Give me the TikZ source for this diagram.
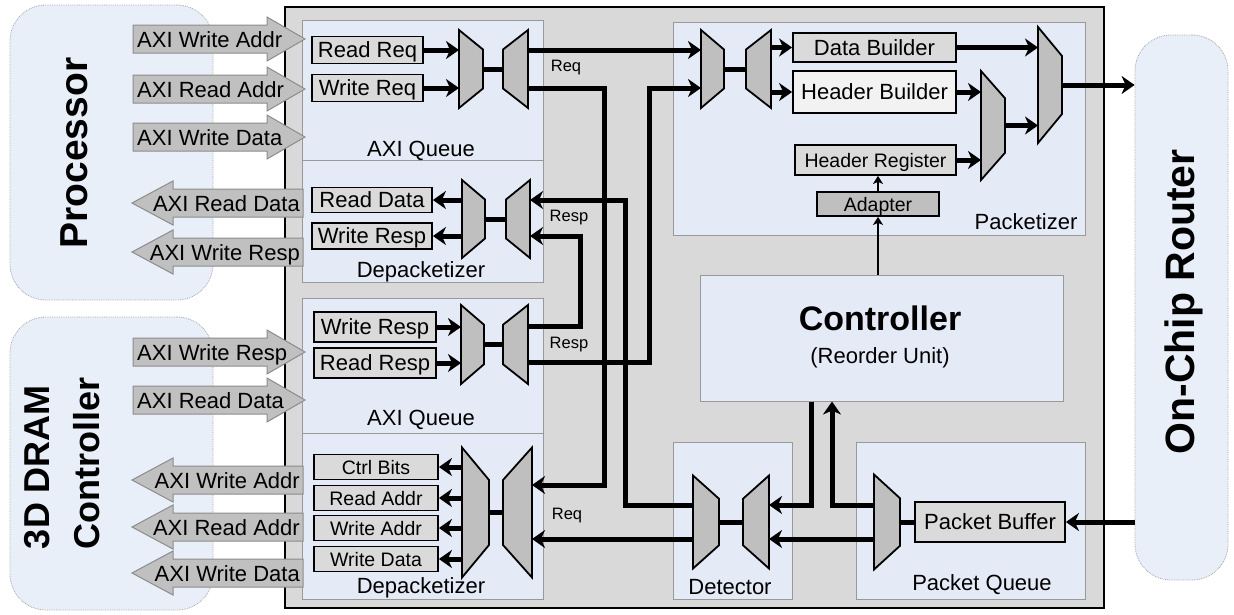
\documentclass[tikz,border=0pt]{standalone}
\usepackage{fontspec}
\setmainfont{Liberation Sans}
\usepackage{tikz}
\usepackage{xcolor}
\usetikzlibrary{calc,arrows.meta}

\definecolor{chipgray}{RGB}{217,217,217}
\definecolor{blockblue}{RGB}{229,235,246}
\definecolor{hostblue}{RGB}{233,239,249}
\definecolor{unitgray}{RGB}{218,218,218}
\definecolor{unitlight}{RGB}{242,242,242}
\definecolor{muxgray}{RGB}{191,191,191}
\definecolor{sigfill}{RGB}{192,192,192}
\definecolor{sigline}{RGB}{140,140,140}

\tikzset{
  chip/.style={fill=chipgray, draw=black, line width=1.5pt},
  block/.style={fill=blockblue, draw=gray!80, line width=1pt},
  host/.style={fill=hostblue, draw=gray!70, line width=0.8pt, densely dotted, rounded corners=36pt},
  unit/.style={draw=black, fill=unitgray, line width=1.8pt, inner sep=0pt,
    font=\fontsize{22}{26}\selectfont, text height=15.8pt, text depth=0pt},
  smallunit/.style={unit, font=\fontsize{19.5}{22}\selectfont, text height=14pt},
  muxshape/.style={draw=black, fill=muxgray, line width=1.8pt, line join=miter},
  muxl/.style={rectangle, inner sep=0pt, outer sep=0pt,
    append after command={\pgfextra{
      \draw[muxshape] (\tikzlastnode.north west)
        -- ($(\tikzlastnode.north east)!.25!(\tikzlastnode.south east)$)
        -- ($(\tikzlastnode.south east)!.25!(\tikzlastnode.north east)$)
        -- (\tikzlastnode.south west) -- cycle;}}},
  muxr/.style={rectangle, inner sep=0pt, outer sep=0pt,
    append after command={\pgfextra{
      \draw[muxshape] (\tikzlastnode.north east)
        -- (\tikzlastnode.south east)
        -- ($(\tikzlastnode.south west)!.25!(\tikzlastnode.north west)$)
        -- ($(\tikzlastnode.north west)!.25!(\tikzlastnode.south west)$) -- cycle;}}},
  wire/.style={line width=5pt, line join=miter},
  flow/.style={wire, -{Stealth[length=13pt,width=18pt,inset=4pt]}},
  thinflow/.style={line width=2.5pt, -{Stealth[length=8pt,width=10pt,inset=2pt]}},
  sig/.style={fill=sigfill, draw=sigline, line width=1pt, line join=miter},
  sigtxt/.style={inner sep=0pt, font=\fontsize{22}{26}\selectfont},
  lbl/.style={inner sep=0pt, font=\fontsize{22}{26}\selectfont},
  tag/.style={inner sep=0pt, font=\fontsize{16.5}{19}\selectfont},
  title/.style={inner sep=0pt, rotate=90, font=\bfseries\fontsize{39}{50}\selectfont},
}

\begin{document}
\begin{tikzpicture}[x=1pt,y=-1pt]
\useasboundingbox (0,0) rectangle (1234,614);

% Hosts around the interface
\node[host, minimum width=203pt, minimum height=295pt] (proc) at (111.5,152.5) {};
\node[host, minimum width=203pt, minimum height=293pt] (dram) at (111.5,463.5) {};
\node[host, minimum width=93pt, minimum height=545pt] (router) at (1181.5,307.5) {};
\node[title] (proct) at (74,153) {Processor};
\node[title, align=left, font=\bfseries\fontsize{36}{50}\selectfont] (dramt) at (62,463) {3D DRAM\\Controller};
\node[title, font=\bfseries\fontsize{41}{50}\selectfont] (routert) at (1184,302) {On-Chip Router};

% Interface body and its blocks
\draw[chip] (285,7) rectangle (1104,608);
\draw[block] (302,20) rectangle (543,160);
\draw[block] (302,160) rectangle (543,282);
\draw[block] (302,298) rectangle (543,433);
\draw[block] (302,433) rectangle (543,599);
\draw[block] (673,22) rectangle (1085,235);
\draw[block] (673,442) rectangle (792,599);
\draw[block] (856,442) rectangle (1085,599);
\node[block, minimum width=363pt, minimum height=126pt] (ctrl) at (881.5,338) {};

% AXI channels, processor side
\draw[sig] (133,25) -- ++(134,0) -- ++(0,-8) -- ++(38,22) -- ++(-38,22) -- ++(0,-8) -- ++(-134,0) -- cycle;
\draw[sig] (133,75) -- ++(134,0) -- ++(0,-8) -- ++(38,22) -- ++(-38,22) -- ++(0,-8) -- ++(-134,0) -- cycle;
\draw[sig] (133,123) -- ++(134,0) -- ++(0,-8) -- ++(38,22) -- ++(-38,22) -- ++(0,-8) -- ++(-134,0) -- cycle;
\draw[sig] (303,189) -- ++(-130,0) -- ++(0,-8) -- ++(-41,22) -- ++(41,22) -- ++(0,-8) -- ++(130,0) -- cycle;
\draw[sig] (303,238) -- ++(-130,0) -- ++(0,-8) -- ++(-41,22) -- ++(41,22) -- ++(0,-8) -- ++(130,0) -- cycle;
\node[sigtxt, anchor=base west] (pwaddr) at (137,47) {AXI Write Addr};
\node[sigtxt, anchor=base west] (praddr) at (137,97) {AXI Read Addr};
\node[sigtxt, anchor=base west] (pwdata) at (137,145) {AXI Write Data};
\node[sigtxt, anchor=base east] (prdata) at (300,211) {AXI Read Data};
\node[sigtxt, anchor=base east] (pwresp) at (300,260) {AXI Write Resp};

% AXI channels, DRAM side
\draw[sig] (133,338) -- ++(134,0) -- ++(0,-8) -- ++(38,22) -- ++(-38,22) -- ++(0,-8) -- ++(-134,0) -- cycle;
\draw[sig] (133,386) -- ++(134,0) -- ++(0,-8) -- ++(38,22) -- ++(-38,22) -- ++(0,-8) -- ++(-134,0) -- cycle;
\draw[sig] (303,466) -- ++(-130,0) -- ++(0,-8) -- ++(-41,22) -- ++(41,22) -- ++(0,-8) -- ++(130,0) -- cycle;
\draw[sig] (303,513) -- ++(-130,0) -- ++(0,-8) -- ++(-41,22) -- ++(41,22) -- ++(0,-8) -- ++(130,0) -- cycle;
\draw[sig] (303,559) -- ++(-130,0) -- ++(0,-8) -- ++(-41,22) -- ++(41,22) -- ++(0,-8) -- ++(130,0) -- cycle;
\node[sigtxt, anchor=base west] (mwresp) at (137,360) {AXI Write Resp};
\node[sigtxt, anchor=base west] (mrdata) at (137,408) {AXI Read Data};
\node[sigtxt, anchor=base east] (mwaddr) at (300,488) {AXI Write Addr};
\node[sigtxt, anchor=base east] (mraddr) at (300,535) {AXI Read Addr};
\node[sigtxt, anchor=base east] (mwdata) at (300,581) {AXI Write Data};

% Units
\node[unit, minimum width=111pt, minimum height=27pt] (rreq) at (367.5,50) {Read Req};
\node[unit, minimum width=111pt, minimum height=27pt] (wreq) at (367.5,88) {Write Req};
\node[unit, minimum width=120pt, minimum height=25pt] (rdat) at (372,200) {Read Data};
\node[unit, minimum width=120pt, minimum height=26pt] (wrsp) at (372,236) {Write Resp};
\node[unit, minimum width=122pt, minimum height=30pt] (mwrsp) at (375,327) {Write Resp};
\node[unit, minimum width=122pt, minimum height=30pt] (mrrsp) at (375,363) {Read Resp};
\node[smallunit, minimum width=124pt, minimum height=25pt] (cbit) at (376,467) {Ctrl Bits};
\node[smallunit, minimum width=124pt, minimum height=25pt] (radr) at (376,498) {Read Addr};
\node[smallunit, minimum width=124pt, minimum height=25pt] (wadr) at (376,528) {Write Addr};
\node[smallunit, minimum width=124pt, minimum height=25pt] (wdat) at (376,559) {Write Data};
\node[unit, minimum width=163pt, minimum height=29pt] (dbld) at (874.5,47.5) {Data Builder};
\node[unit, fill=unitlight, minimum width=163pt, minimum height=42pt] (hbld) at (874.5,92) {Header Builder};
\node[smallunit, minimum width=161pt, minimum height=30pt] (hreg) at (875.5,160) {Header Register};
\node[smallunit, fill=muxgray, minimum width=122pt, minimum height=24pt] (adpt) at (878,204) {Adapter};
\node[unit, minimum width=150pt, minimum height=40pt] (pbuf) at (990,522) {Packet Buffer};

% Mux / demux pairs
\node[muxl, minimum width=24pt, minimum height=78pt] (qmux) at (471,69) {};
\node[muxr, minimum width=25pt, minimum height=78pt] (qdmx) at (515.5,69) {};
\node[muxl, minimum width=23pt, minimum height=78pt] (dmux) at (473.5,219) {};
\node[muxr, minimum width=24pt, minimum height=78pt] (ddmx) at (518,219) {};
\node[muxl, minimum width=23pt, minimum height=79pt] (qmux2) at (472.5,344.5) {};
\node[muxr, minimum width=25pt, minimum height=79pt] (qdmx2) at (515.5,344.5) {};
\node[muxl, minimum width=27pt, minimum height=130pt] (dmux2) at (475.5,512.5) {};
\node[muxr, minimum width=29pt, minimum height=130pt] (ddmx2) at (517.5,512.5) {};
\node[muxl, minimum width=23pt, minimum height=78pt] (pmux) at (712.5,69) {};
\node[muxr, minimum width=25pt, minimum height=78pt] (pdmx) at (758.5,69) {};
\node[muxl, minimum width=24pt, minimum height=109pt] (hmux) at (993,125.5) {};
\node[muxl, minimum width=24pt, minimum height=116pt] (omux) at (1050,85) {};
\node[muxl, minimum width=26pt, minimum height=93pt] (tmux) at (706,522) {};
\node[muxr, minimum width=26pt, minimum height=93pt] (tdmx) at (756,522) {};
\node[muxl, minimum width=26pt, minimum height=95pt] (kdmx) at (887,522) {};

% AXI queue, processor side
\draw[flow] (rreq.east) -- (rreq.east -| qmux.west);
\draw[flow] (wreq.east) -- (wreq.east -| qmux.west);
\draw[wire] (qmux.east) -- (qdmx.west);
\draw[flow] ($(qdmx.east)+(0,-19)$) -- ($(pmux.west)+(0,-19)$);
\draw[flow] ($(qdmx.east)+(0,19)$) -- ++(76,0) |- ($(ddmx2.east)+(0,-27.5)$);

% Depacketizer, processor side
\draw[flow] (rdat.east -| dmux.west) -- (rdat.east);
\draw[flow] (wrsp.east -| dmux.west) -- (wrsp.east);
\draw[wire] (dmux.east) -- (ddmx.west);

% AXI queue, DRAM side
\draw[flow] (mwrsp.east) -- (mwrsp.east -| qmux2.west);
\draw[flow] (mrrsp.east) -- (mrrsp.east -| qmux2.west);
\draw[wire] (qmux2.east) -- (qdmx2.west);
\draw[flow] ($(qdmx2.east)+(0,-18)$) -- ++(52,0) |- ($(ddmx.east)+(0,17)$);
\draw[flow] ($(qdmx2.east)+(0,18)$) -- ++(121,0) |- ($(pmux.west)+(0,19)$);

% Depacketizer, DRAM side
\draw[flow] (cbit.east -| dmux2.west) -- (cbit.east);
\draw[flow] (radr.east -| dmux2.west) -- (radr.east);
\draw[flow] (wadr.east -| dmux2.west) -- (wadr.east);
\draw[flow] (wdat.east -| dmux2.west) -- (wdat.east);
\draw[wire] (dmux2.east) -- (ddmx2.west);

% Detector
\draw[wire] (tmux.east) -- (tdmx.west);
\draw[flow] ($(tmux.west)+(0,-17)$) -- ++(-68,0) |- ($(ddmx.east)+(0,-19)$);
\draw[flow] ($(tmux.west)+(0,17)$) -- ($(ddmx2.east)+(0,26.5)$);

% Controller and packet queue
\draw[flow] ($(ctrl.south)+(-70,0)$) |- ($(tdmx.east)+(0,-17)$);
\draw[flow] ($(kdmx.west)+(0,-17)$) -| ($(ctrl.south)+(-49.5,0)$);
\draw[flow] ($(kdmx.west)+(0,17)$) -- ($(tdmx.east)+(0,17)$);
\draw[wire] (pbuf.west) -- (kdmx.east);
\draw[flow] (router.west |- pbuf.east) -- (pbuf.east);

% Packetizer
\draw[wire] (pmux.east) -- (pdmx.west);
\draw[flow] (pdmx.east |- dbld.west) -- (dbld.west);
\draw[flow] (pdmx.east |- hbld.west) -- (hbld.west);
\draw[flow] (dbld.east) -- (dbld.east -| omux.west);
\draw[flow] (hbld.east) -- (hbld.east -| hmux.west);
\draw[flow] (hreg.east) -- (hreg.east -| hmux.west);
\draw[flow] (hmux.east) -- (hmux.east -| omux.west);
\draw[flow] (omux.east) -- (omux.east -| router.west);
\draw[thinflow] (adpt.north) -- (adpt.north |- hreg.south);
\draw[thinflow] (ctrl.north -| adpt.south) -- (adpt.south);

% Labels
\node[lbl] (qlbl) at (421,151) {AXI Queue};
\node[lbl] (dlbl) at (421,272) {Depacketizer};
\node[lbl] (qlbl2) at (421,420) {AXI Queue};
\node[lbl] (dlbl2) at (421,588) {Depacketizer};
\node[lbl] (plbl) at (1026,222) {Packetizer};
\node[lbl] (tlbl) at (730,587) {Detector};
\node[lbl] (klbl) at (982,585) {Packet Queue};
\node[inner sep=0pt, font=\bfseries\fontsize{34}{40}\selectfont] (ctrlt) at (880,318) {Controller};
\node[lbl] (ctrls) at (880,358) {(Reorder Unit)};
\node[tag] (req1) at (566,68) {Req};
\node[tag] (rsp1) at (569,218) {Resp};
\node[tag] (rsp2) at (569,345) {Resp};
\node[tag] (req2) at (567,516) {Req};

\end{tikzpicture}
\end{document}
